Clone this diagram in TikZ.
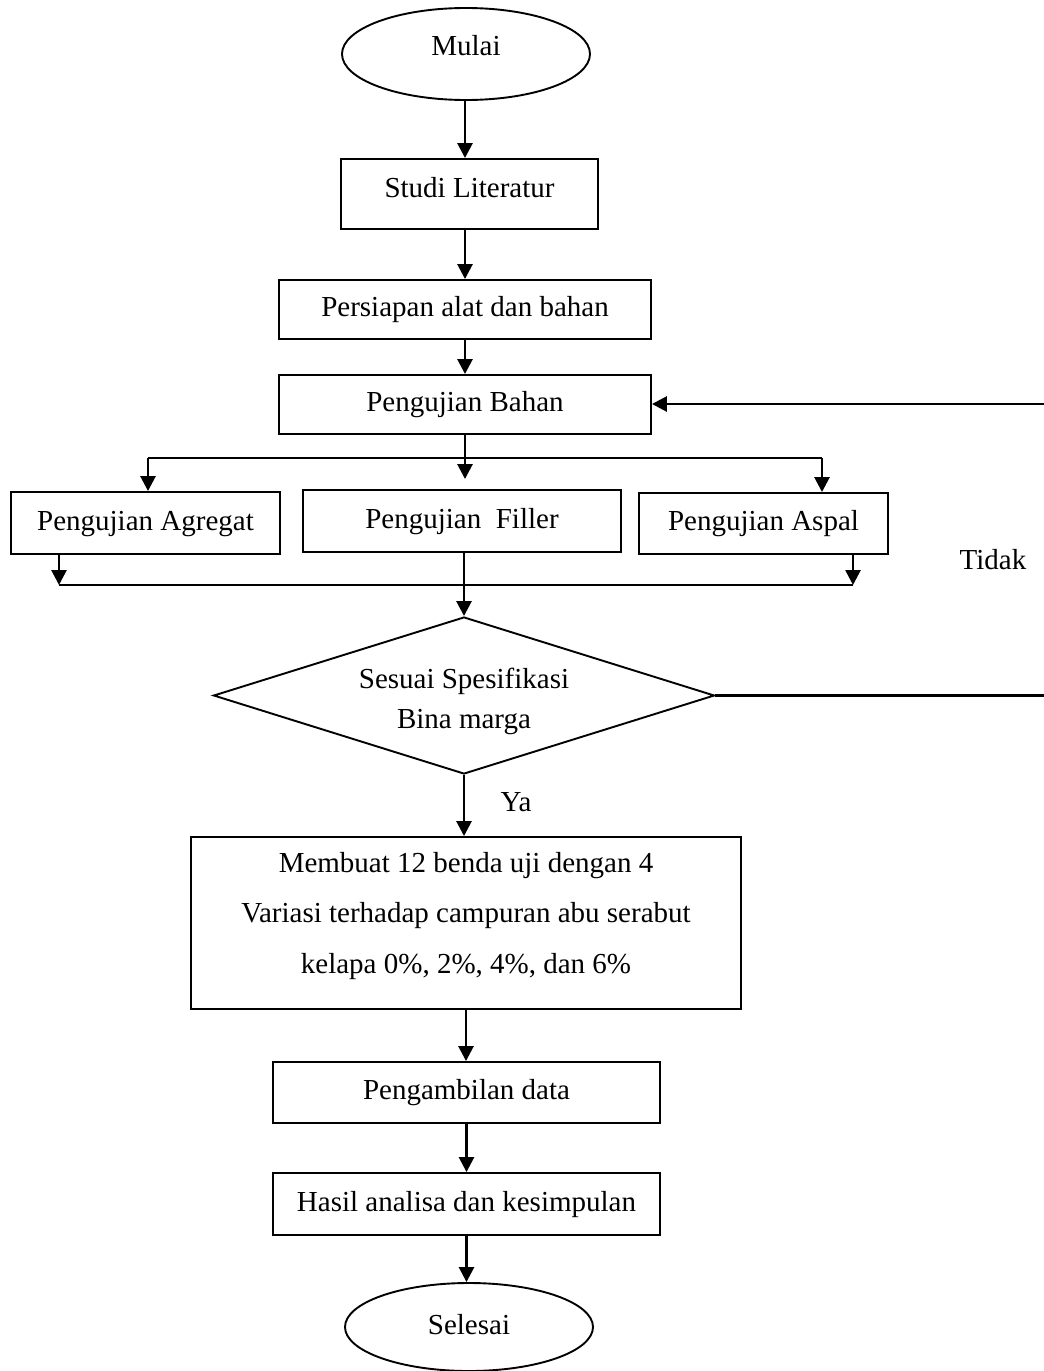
\documentclass[tikz,border=0pt]{standalone}
\usepackage{fontspec}
\setmainfont{Liberation Serif}
\usetikzlibrary{shapes.geometric,arrows.meta}
\begin{document}
\begin{tikzpicture}[x=1pt,y=-1pt,
  every node/.style={font=\fontsize{29}{34}\selectfont},
  stepbox/.style={draw, line width=1.9pt, inner sep=0pt, text height=20pt, text depth=6pt},
  term/.style={draw, ellipse, line width=1.9pt, inner sep=0pt, text height=20pt, text depth=6pt},
  decbox/.style={draw, diamond, line width=1.9pt, inner sep=0pt},
  txt/.style={inner sep=0pt, align=center},
  arr/.style={line width=2.7pt, -{Triangle[length=15pt,width=15pt]}},
  ln/.style={line width=2.7pt}]
\useasboundingbox (0,0) rectangle (1044,1371);

\node[term, minimum width=248pt, minimum height=92pt] (mulai) at (466,54) {\raisebox{6pt}{Mulai}};
\node[stepbox, minimum width=257pt, minimum height=70pt] (studi) at (469.5,194) {\raisebox{4pt}{Studi Literatur}};
\node[stepbox, minimum width=372pt, minimum height=59pt] (persiapan) at (465,309.5) {Persiapan alat dan bahan};
\node[stepbox, minimum width=372pt, minimum height=59pt] (bahan) at (465,404.5) {Pengujian Bahan};
\node[stepbox, minimum width=269pt, minimum height=62pt] (agregat) at (145.5,523) {Pengujian Agregat};
\node[stepbox, minimum width=318pt, minimum height=62pt] (filler) at (462,521) {Pengujian\ \ Filler};
\node[stepbox, minimum width=249pt, minimum height=61pt] (aspal) at (763.5,523.5) {Pengujian Aspal};
\node[txt] (tidak) at (993,560) {Tidak};

\node[decbox, minimum width=501pt, minimum height=157pt] (dec) at (464,695.5) {};
\node[txt, font=\fontsize{29}{40}\selectfont] (dectext) at (464,701) {Sesuai Spesifikasi\\Bina marga};
\node[txt] (ya) at (516,802) {Ya};

\node[stepbox, minimum width=550pt, minimum height=172pt] (membuat) at (466,923) {};
\node[txt, font=\fontsize{29}{50.5}\selectfont] (membuattext) at (466,916) {Membuat 12 benda uji dengan 4\\Variasi terhadap campuran abu serabut\\kelapa 0\%, 2\%, 4\%, dan 6\%};
\node[stepbox, minimum width=387pt, minimum height=61pt] (ambil) at (466.5,1092.5) {Pengambilan data};
\node[stepbox, minimum width=387pt, minimum height=62pt] (hasil) at (466.5,1204) {Hasil analisa dan kesimpulan};
\node[term, minimum width=248pt, minimum height=88pt] (selesai) at (469,1327) {Selesai};

\coordinate (sp) at (465,458);
\coordinate (spL) at (148,458);
\coordinate (spR) at (822,458);
\coordinate (mL) at (59,585);
\coordinate (mR) at (853,585);
\coordinate (mC) at (464,585);
\coordinate (rE) at (1044,697);
\coordinate (rT) at (1044,404);

\draw[arr] (mulai.south -| persiapan.north) -- (persiapan.north |- studi.north);
\draw[arr] (persiapan.north |- studi.south) -- (persiapan.north);
\draw[arr] (persiapan.south) -- (bahan.north);
\draw[ln] (bahan.south) -- (sp);
\draw[ln] (spL) -- (spR);
\draw[arr] (spL) -- (spL |- agregat.north);
\draw[arr, shorten >=10pt] (sp) -- (sp |- filler.north);
\draw[arr] (spR) -- (spR |- aspal.north);
\draw[arr] (mL |- agregat.south) -- (mL);
\draw[arr] (mR |- aspal.south) -- (mR);
\draw[ln] (mL) -- (mR);
\draw[arr] (mC |- filler.south) -- (mC |- dec.north);
\draw[ln] (dec.east) -- (dec.east -| rE);
\draw[arr] (rT) -- (bahan.east |- rT);
\draw[arr] (dec.south) -- (dec.south |- membuat.north);
\draw[arr] (membuat.south) -- (membuat.south |- ambil.north);
\draw[arr] (ambil.south) -- (hasil.north);
\draw[arr] (hasil.south) -- (hasil.south |- selesai.north);
\end{tikzpicture}
\end{document}
